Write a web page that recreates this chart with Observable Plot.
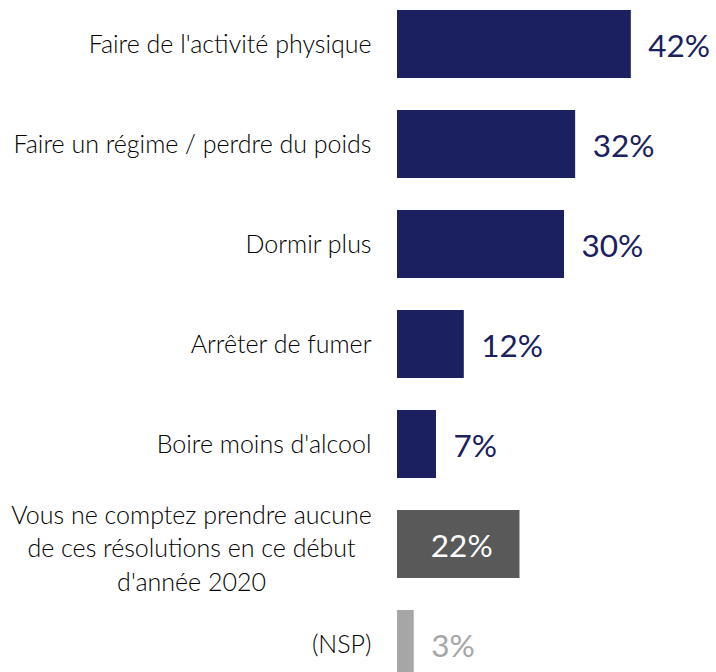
<!DOCTYPE html>
<html>
<head>
<meta charset="utf-8">
<script src="https://cdn.jsdelivr.net/npm/d3@7"></script>
<script src="https://cdn.jsdelivr.net/npm/@observablehq/plot@0.6"></script>
<style>
  html, body { margin: 0; padding: 0; background: white; }
  #chart svg { display: block; }
</style>
</head>
<body>
<div id="chart"></div>
<script>
const categories = [
  "Faire de l'activité physique",
  "Faire un régime / perdre du poids",
  "Dormir plus",
  "Arrêter de fumer",
  "Boire moins d'alcool",
  "Vous ne comptez prendre aucune\nde ces résolutions en ce début\nd'année 2020",
  "(NSP)"
];
const values = [42, 32, 30, 12, 7, 22, 3];
const groups = ["resolution", "resolution", "resolution", "resolution", "resolution", "aucune", "nsp"];
const groupNames = ["resolution", "aucune", "nsp"];
const groupColors = ["#1a2060", "#595959", "#a6a6a6"];
const labelColors = ["#1a2060", "#ffffff", "#a6a6a6"];

const data = categories.map((c, i) => ({category: c, value: values[i], group: groups[i], label: values[i] + "%"}));
const labelColor = g => labelColors[groupNames.indexOf(g)];

const font = "Lato, 'Open Sans', sans-serif";

const chart = Plot.plot({
  width: 716,
  height: 672,
  marginLeft: 397,
  marginRight: 0,
  marginTop: 0,
  marginBottom: 0,
  style: {fontFamily: font, background: "white"},
  x: {domain: [0, 57.3], axis: null},
  y: {domain: categories, range: [-6.5, 693.5], paddingInner: 0.32, paddingOuter: 0.16, axis: null},
  color: {domain: groupNames, range: groupColors},
  marks: [
    Plot.barX(data, {x: "value", y: "category", fill: "group"}),
    // category labels (single line, right aligned)
    Plot.text(data.filter(d => !d.category.includes("\n")), {
      y: "category", text: "category", frameAnchor: "left", textAnchor: "end", dx: -26,
      fontSize: 25, fontWeight: 300, fill: "#000000"
    }),
    // multi-line label, centered
    Plot.text(data.filter(d => d.category.includes("\n")), {
      y: "category", text: "category", frameAnchor: "left", textAnchor: "middle", dx: -206, dy: 2,
      fontSize: 25, fontWeight: 300, lineHeight: 1.34, fill: "#000000"
    }),
    // value labels outside bars
    Plot.text(data.filter(d => d.group !== "aucune"), {
      x: "value", y: "category", text: "label", textAnchor: "start", dx: 17, dy: 2.5,
      fontSize: 31.5, fontWeight: 400, fill: d => labelColor(d.group)
    }),
    // value label inside the "aucune" bar
    Plot.text(data.filter(d => d.group === "aucune"), {
      x: d => d.value / 2, y: "category", text: "label", textAnchor: "middle", dx: 3, dy: 2,
      fontSize: 31.5, fontWeight: 400, fill: d => labelColor(d.group)
    })
  ]
});
document.getElementById("chart").appendChild(chart);
</script>
</body>
</html>
